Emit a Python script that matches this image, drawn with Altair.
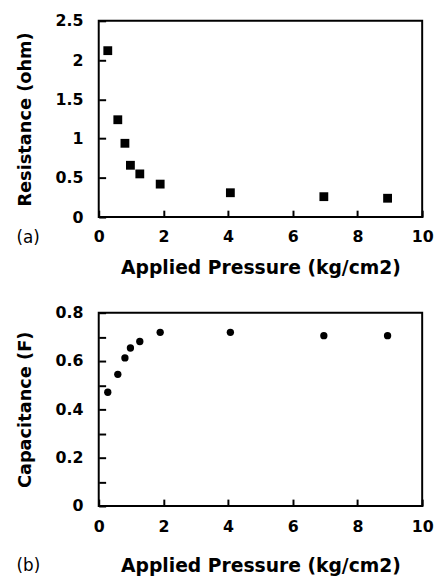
import altair as alt
import pandas as pd

pressure = [0.28, 0.59, 0.81, 0.98, 1.27, 1.9, 4.07, 6.96, 8.93]
resistance = [2.12, 1.24, 0.94, 0.66, 0.55, 0.42, 0.31, 0.26, 0.24]
capacitance = [0.471, 0.545, 0.613, 0.654, 0.681, 0.719, 0.719, 0.705, 0.705]

x_ticks = [0, 2, 4, 6, 8, 10]
res_ticks = [0, 0.5, 1, 1.5, 2, 2.5]
cap_ticks = [0, 0.1, 0.2, 0.3, 0.4, 0.5, 0.6, 0.7, 0.8]

df = pd.DataFrame({"p": pressure, "r": resistance, "c": capacitance})

FONT = "DejaVu Sans"
TICK = 7

def xaxis(lp, tp):
    return alt.Axis(values=x_ticks, tickSize=TICK, offset=-TICK, domain=False, grid=False,
                    tickColor="black", tickWidth=2, labelPadding=lp, labelFont=FONT,
                    labelFontSize=16, labelFontWeight="bold", labelColor="black",
                    title="Applied Pressure (kg/cm2)", titleFont=FONT, titleFontSize=19,
                    titleFontWeight="bold", titleColor="black", titlePadding=tp,
                    labelFlush=False)

def yaxis(vals, title, expr):
    return alt.Axis(values=vals, tickSize=TICK, offset=-TICK, domain=False, grid=False,
                    tickColor="black", tickWidth=2, labelPadding=16, labelFont=FONT,
                    labelFontSize=16, labelFontWeight="bold", labelColor="black",
                    title=title, titleFont=FONT, titleFontSize=18, titleFontWeight="bold",
                    titleColor="black", titlePadding=21, labelExpr=expr)

top = alt.Chart(df).mark_square(size=80, color="black", opacity=1).encode(
    x=alt.X("p:Q", scale=alt.Scale(domain=[0, 10], nice=False), axis=xaxis(12, 14)),
    y=alt.Y("r:Q", scale=alt.Scale(domain=[0, 2.5], nice=False),
            axis=yaxis(res_ticks, "Resistance (ohm)", "format(datum.value, '~g')")),
).properties(width=328, height=199,
             title=alt.TitleParams("(a)", orient="bottom", anchor="start", frame="bounds",
                                   font=FONT, fontSize=17, fontWeight="normal", color="black",
                                   dy=-52, dx=0))

bottom = alt.Chart(df).mark_circle(size=55, color="black", opacity=1).encode(
    x=alt.X("p:Q", scale=alt.Scale(domain=[0, 10], nice=False), axis=xaxis(13, 22)),
    y=alt.Y("c:Q", scale=alt.Scale(domain=[0, 0.8], nice=False),
            axis=yaxis(cap_ticks, "Capacitance (F)",
                       "round(datum.value*10) % 2 == 0 ? format(datum.value, '~g') : ''")),
).properties(width=328, height=196,
             title=alt.TitleParams("(b)", orient="bottom", anchor="start", frame="bounds",
                                   font=FONT, fontSize=17, fontWeight="normal", color="black",
                                   dy=-21, dx=0))

chart = alt.vconcat(top, bottom, spacing=26).configure_view(
    stroke="black", strokeWidth=2
).properties(padding={"left": 7, "top": 0, "right": 0, "bottom": 0}, background="white")

chart.save("out.html", embed_options={"renderer": "svg", "actions": False})
